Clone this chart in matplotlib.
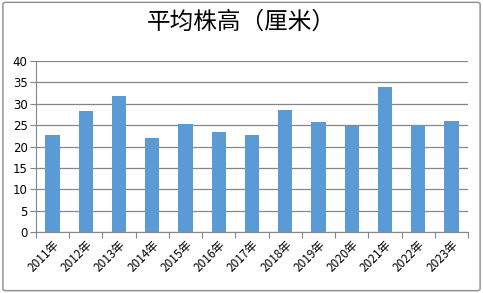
import matplotlib
matplotlib.use("Agg")
import matplotlib.pyplot as plt
from matplotlib.patches import FancyBboxPatch

plt.rcParams['font.family'] = ['Noto Sans CJK SC', 'DejaVu Sans']

years = ["2011年", "2012年", "2013年", "2014年", "2015年", "2016年", "2017年",
         "2018年", "2019年", "2020年", "2021年", "2022年", "2023年"]
heights = [22.7, 28.3, 31.8, 22.0, 25.2, 23.4, 22.7, 28.5, 25.7, 24.8, 33.9, 25.1, 25.9]
yticks = [0, 5, 10, 15, 20, 25, 30, 35, 40]
title = "平均株高（厘米）"

fig = plt.figure(figsize=(4.83, 2.93), dpi=100)
fig.patches.append(FancyBboxPatch((0.006, 0.008), 0.988, 0.984,
                                  boxstyle="round,pad=0,rounding_size=0.006",
                                  transform=fig.transFigure, fill=False,
                                  edgecolor="#8c8c8c", linewidth=1.0))
ax = fig.add_axes([0.0745, 0.207, 0.8945, 0.586])
x = list(range(len(years)))
ax.bar(x, heights, width=0.43, color="#5B9BD5", zorder=3)
ax.set_xlim(-0.5, len(years) - 0.5)
ax.set_ylim(0, 40)
ax.set_yticks(yticks)
ax.set_yticklabels([str(v) for v in yticks], fontsize=8.5, family=['DejaVu Sans'])
ax.yaxis.grid(True, color="#868686", linewidth=0.9, zorder=0)
ax.set_axisbelow(True)
for s in ["top", "right"]:
    ax.spines[s].set_visible(False)
ax.spines["left"].set_color("#868686")
ax.spines["bottom"].set_color("#868686")
ax.tick_params(axis="y", length=4, color="#868686", pad=2)
ax.set_xticks([i - 0.5 for i in range(len(years) + 1)], minor=False)
ax.set_xticklabels([""] * (len(years) + 1))
ax.tick_params(axis="x", which="major", length=4, color="#868686")
ax.set_xticks(x, minor=True)
ax.set_xticklabels(years, minor=True, rotation=45, ha="right", va="top",
                   rotation_mode="anchor", fontsize=8.5)
ax.tick_params(axis="x", which="minor", length=0, pad=4)
fig.text(0.5, 0.925, title, ha="center", va="center", fontsize=17, weight="medium")
fig.savefig("out.png", dpi=100)
